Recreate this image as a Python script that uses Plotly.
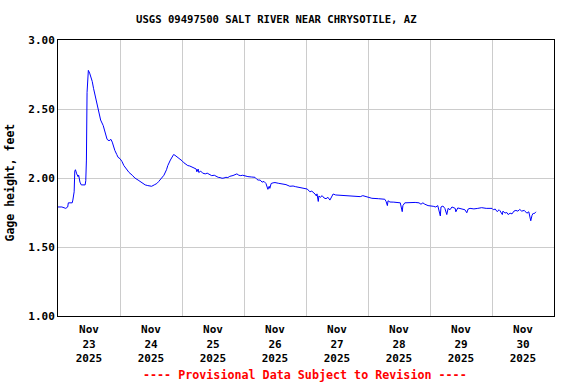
import plotly.graph_objects as go

TITLE = "USGS 09497500 SALT RIVER NEAR CHRYSOTILE, AZ"
Y_LABEL = "Gage height, feet"
FOOTER = "---- Provisional Data Subject to Revision ----"

day_labels = ["Nov<br>23<br>2025", "Nov<br>24<br>2025", "Nov<br>25<br>2025", "Nov<br>26<br>2025",
              "Nov<br>27<br>2025", "Nov<br>28<br>2025", "Nov<br>29<br>2025", "Nov<br>30<br>2025"]
day_label_pos = ["2025-11-23 12:00", "2025-11-24 12:00", "2025-11-25 12:00", "2025-11-26 12:00",
                 "2025-11-27 12:00", "2025-11-28 12:00", "2025-11-29 12:00", "2025-11-30 12:00"]
y_ticks = [1.0, 1.5, 2.0, 2.5, 3.0]

times = [
    "2025-11-23 00:00", "2025-11-23 01:30", "2025-11-23 03:00", "2025-11-23 03:45", "2025-11-23 04:00",
    "2025-11-23 05:30", "2025-11-23 05:45", "2025-11-23 06:15", "2025-11-23 06:30", "2025-11-23 06:45",
    "2025-11-23 07:15", "2025-11-23 07:45", "2025-11-23 08:00", "2025-11-23 08:30", "2025-11-23 09:00",
    "2025-11-23 10:30", "2025-11-23 10:45", "2025-11-23 11:00", "2025-11-23 11:15", "2025-11-23 11:30",
    "2025-11-23 11:45", "2025-11-23 12:15", "2025-11-23 12:45", "2025-11-23 13:15", "2025-11-23 13:45",
    "2025-11-23 14:15", "2025-11-23 14:45", "2025-11-23 15:30", "2025-11-23 16:15", "2025-11-23 16:30",
    "2025-11-23 17:30", "2025-11-23 18:00", "2025-11-23 18:30", "2025-11-23 19:00", "2025-11-23 19:45",
    "2025-11-23 20:30", "2025-11-23 21:00", "2025-11-23 21:15", "2025-11-23 22:00", "2025-11-23 22:45",
    "2025-11-23 23:15",
    "2025-11-24 00:00", "2025-11-24 00:45", "2025-11-24 01:30", "2025-11-24 02:30", "2025-11-24 03:30",
    "2025-11-24 04:45", "2025-11-24 05:45", "2025-11-24 07:00", "2025-11-24 08:00", "2025-11-24 09:45",
    "2025-11-24 10:45", "2025-11-24 12:15", "2025-11-24 13:15", "2025-11-24 14:15", "2025-11-24 15:00",
    "2025-11-24 16:00", "2025-11-24 17:00", "2025-11-24 18:00", "2025-11-24 18:30", "2025-11-24 19:30",
    "2025-11-24 20:00", "2025-11-24 20:45", "2025-11-24 21:15", "2025-11-24 22:00", "2025-11-24 22:30",
    "2025-11-24 23:15",
    "2025-11-25 00:00", "2025-11-25 00:45", "2025-11-25 01:30", "2025-11-25 02:15", "2025-11-25 03:00",
    "2025-11-25 03:45", "2025-11-25 04:30", "2025-11-25 05:30", "2025-11-25 05:45", "2025-11-25 06:15",
    "2025-11-25 06:30", "2025-11-25 07:15", "2025-11-25 08:00", "2025-11-25 09:00", "2025-11-25 09:45",
    "2025-11-25 10:30", "2025-11-25 11:30", "2025-11-25 12:30", "2025-11-25 13:15", "2025-11-25 14:00",
    "2025-11-25 14:45", "2025-11-25 15:30", "2025-11-25 16:15", "2025-11-25 17:00", "2025-11-25 17:45",
    "2025-11-25 18:30", "2025-11-25 19:45", "2025-11-25 20:30", "2025-11-25 21:15", "2025-11-25 22:00",
    "2025-11-25 22:45", "2025-11-25 23:30",
    "2025-11-26 00:30", "2025-11-26 01:30", "2025-11-26 03:00", "2025-11-26 04:15", "2025-11-26 05:00",
    "2025-11-26 05:30", "2025-11-26 06:15", "2025-11-26 07:00", "2025-11-26 07:45", "2025-11-26 08:30",
    "2025-11-26 09:15", "2025-11-26 09:45", "2025-11-26 10:00", "2025-11-26 10:30", "2025-11-26 11:15",
    "2025-11-26 12:00", "2025-11-26 13:15", "2025-11-26 14:45", "2025-11-26 16:15", "2025-11-26 17:45",
    "2025-11-26 19:00", "2025-11-26 20:00", "2025-11-26 21:45", "2025-11-26 22:45", "2025-11-26 23:30",
    "2025-11-27 00:30", "2025-11-27 01:30", "2025-11-27 02:15", "2025-11-27 03:30", "2025-11-27 04:00",
    "2025-11-27 04:15", "2025-11-27 04:45", "2025-11-27 05:00", "2025-11-27 05:30", "2025-11-27 06:15",
    "2025-11-27 07:00", "2025-11-27 07:45", "2025-11-27 08:30", "2025-11-27 09:15", "2025-11-27 09:45",
    "2025-11-27 10:30", "2025-11-27 11:30", "2025-11-27 13:15", "2025-11-27 15:00", "2025-11-27 17:00",
    "2025-11-27 19:00", "2025-11-27 21:00", "2025-11-27 22:00", "2025-11-27 23:30",
    "2025-11-28 01:30", "2025-11-28 04:00", "2025-11-28 06:30", "2025-11-28 07:00", "2025-11-28 07:30",
    "2025-11-28 07:45", "2025-11-28 08:30", "2025-11-28 10:00", "2025-11-28 11:30", "2025-11-28 12:30",
    "2025-11-28 13:15", "2025-11-28 13:30", "2025-11-28 14:15", "2025-11-28 16:15", "2025-11-28 18:15",
    "2025-11-28 19:45", "2025-11-28 20:30", "2025-11-28 21:15", "2025-11-28 22:00", "2025-11-28 23:15",
    "2025-11-29 00:00", "2025-11-29 01:15", "2025-11-29 02:15", "2025-11-29 03:00", "2025-11-29 04:00",
    "2025-11-29 04:15", "2025-11-29 05:00", "2025-11-29 05:45", "2025-11-29 06:30", "2025-11-29 07:00",
    "2025-11-29 07:45", "2025-11-29 08:30", "2025-11-29 09:45", "2025-11-29 10:00", "2025-11-29 10:45",
    "2025-11-29 11:30", "2025-11-29 12:45", "2025-11-29 13:30", "2025-11-29 14:15", "2025-11-29 14:45",
    "2025-11-29 15:30", "2025-11-29 17:00", "2025-11-29 18:30", "2025-11-29 20:00", "2025-11-29 21:45",
    "2025-11-29 23:15",
    "2025-11-30 00:00", "2025-11-30 00:30", "2025-11-30 01:15", "2025-11-30 02:00", "2025-11-30 02:45",
    "2025-11-30 03:00", "2025-11-30 04:00", "2025-11-30 04:15", "2025-11-30 05:00", "2025-11-30 05:45",
    "2025-11-30 06:15", "2025-11-30 07:00", "2025-11-30 07:45", "2025-11-30 08:30", "2025-11-30 09:15",
    "2025-11-30 10:00", "2025-11-30 10:45", "2025-11-30 11:30", "2025-11-30 12:30", "2025-11-30 13:30",
    "2025-11-30 14:15", "2025-11-30 15:00", "2025-11-30 15:30", "2025-11-30 16:00", "2025-11-30 16:15",
    "2025-11-30 17:00",
]

gage_height = [
    1.79, 1.79, 1.78, 1.79, 1.82,
    1.82, 1.84, 1.90, 2.05, 2.06,
    2.03, 2.01, 2.02, 1.97, 1.95,
    1.95, 1.98, 2.13, 2.62, 2.74,
    2.78, 2.76, 2.73, 2.70, 2.65,
    2.61, 2.57, 2.50, 2.45, 2.42,
    2.38, 2.35, 2.31, 2.28, 2.27,
    2.28, 2.26, 2.24, 2.20, 2.17,
    2.15,
    2.14, 2.12, 2.09, 2.06, 2.04,
    2.02, 2.00, 1.985, 1.97, 1.95,
    1.945, 1.94, 1.95, 1.96, 1.975,
    2.00, 2.02, 2.06, 2.09, 2.13,
    2.15, 2.17, 2.165, 2.155, 2.15,
    2.14,
    2.125, 2.11, 2.10, 2.09, 2.087,
    2.08, 2.07, 2.065, 2.045, 2.065,
    2.04, 2.05, 2.035, 2.03, 2.035,
    2.025, 2.017, 2.02, 2.01, 2.005,
    2.003, 1.998, 2.00, 2.005, 2.003,
    2.012, 2.018, 2.025, 2.03, 2.02,
    2.017, 2.02,
    2.014, 2.01, 2.007, 2.005, 1.99,
    1.985, 1.985, 1.97, 1.975, 1.96,
    1.918, 1.94, 1.925, 1.96, 1.965,
    1.967, 1.962, 1.958, 1.952, 1.94,
    1.942, 1.937, 1.93, 1.93, 1.925,
    1.92, 1.90, 1.905, 1.884, 1.87,
    1.885, 1.83, 1.87, 1.86, 1.872,
    1.855, 1.85, 1.86, 1.84, 1.86,
    1.884, 1.877, 1.875, 1.873, 1.872,
    1.87, 1.865, 1.872, 1.865,
    1.853, 1.85, 1.846, 1.83, 1.80,
    1.835, 1.826, 1.825, 1.824, 1.82,
    1.756, 1.80, 1.82, 1.824, 1.823,
    1.82, 1.81, 1.82, 1.81, 1.80,
    1.80, 1.795, 1.79, 1.80, 1.725,
    1.79, 1.797, 1.78, 1.735, 1.78,
    1.77, 1.79, 1.78, 1.755, 1.783,
    1.78, 1.772, 1.77, 1.748, 1.775,
    1.78, 1.776, 1.78, 1.785, 1.78,
    1.783,
    1.78, 1.77, 1.775, 1.756, 1.77,
    1.765, 1.735, 1.76, 1.746, 1.75,
    1.735, 1.745, 1.74, 1.76, 1.765,
    1.76, 1.772, 1.76, 1.765, 1.745,
    1.755, 1.69, 1.73, 1.745, 1.74,
    1.755,
]

FONT = "DejaVu Sans Mono"

fig = go.Figure()
fig.add_trace(go.Scatter(x=times, y=gage_height, mode="lines",
                         line=dict(color="#0000ff", width=1), hoverinfo="skip", showlegend=False))

fig.update_layout(
    width=576, height=384,
    margin=dict(l=58, r=22, t=40, b=68),
    paper_bgcolor="white", plot_bgcolor="white",
    font=dict(family=FONT, size=11, color="black", weight="bold"),
    showlegend=False,
)

fig.update_xaxes(
    type="date",
    range=["2025-11-23 00:00", "2025-12-01 00:00"],
    tickmode="array", tickvals=day_label_pos, ticktext=day_labels,
    ticks="", showgrid=False, zeroline=False, ticklabelstandoff=3,
    showline=True, linecolor="black", linewidth=1, mirror=True,
    tickfont=dict(family=FONT, size=11, color="black", weight="bold"),
    minor=dict(dtick=86400000, tick0="2025-11-23", showgrid=True,
               gridcolor="#cccccc", gridwidth=1, ticks=""),
)

fig.update_yaxes(
    range=[1.0, 3.0], tickmode="array", tickvals=y_ticks,
    tickformat=".2f", ticks="", showgrid=True, gridcolor="#cccccc", gridwidth=1,
    zeroline=False, showline=True, linecolor="black", linewidth=1, mirror=True,
    tickfont=dict(family=FONT, size=11, color="black", weight="bold"),
)

fig.add_annotation(text=TITLE, xref="paper", yref="paper", x=0.4415, y=1.0,
                   yshift=21, showarrow=False, xanchor="center", yanchor="middle",
                   font=dict(family=FONT, size=10.6, color="black", weight="bold"))
fig.add_annotation(text=Y_LABEL, xref="paper", yref="paper", x=-0.0948, y=0.4837,
                   textangle=-90, showarrow=False, xanchor="center", yanchor="middle",
                   font=dict(family=FONT, size=11.5, color="black", weight="bold"))
fig.add_annotation(text=FOOTER, xref="paper", yref="paper", x=0.498, y=0.0,
                   yshift=-59, showarrow=False, xanchor="center", yanchor="middle",
                   font=dict(family=FONT, size=11.7, color="red", weight="bold"))

fig.write_html("out.html", config={"displayModeBar": False},
               post_script="document.body.style.margin='0';")
